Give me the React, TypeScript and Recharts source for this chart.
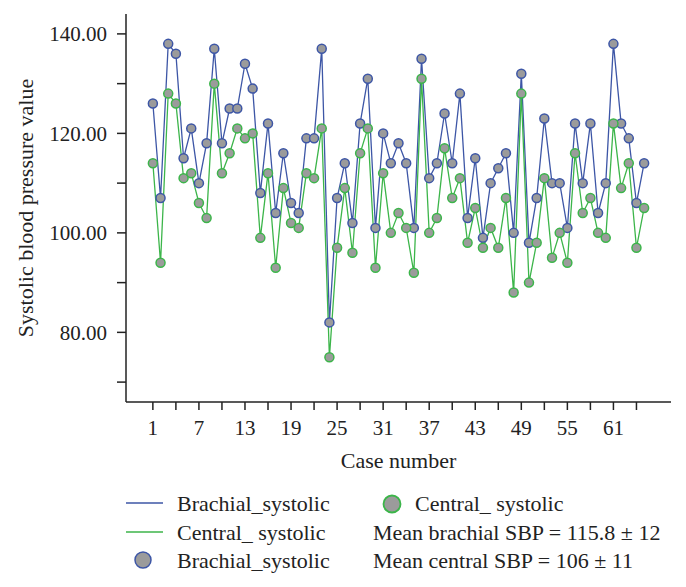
import { LineChart, Line, XAxis, YAxis, Label } from "recharts";

// systolic values per case
const brachial = [
  126, 107, 138, 136, 115, 121, 110, 118, 137, 118,
  125, 125, 134, 129, 108, 122, 104, 116, 106, 104,
  119, 119, 137, 82, 107, 114, 102, 122, 131, 101,
  120, 114, 118, 114, 101, 135, 111, 114, 124, 114,
  128, 103, 115, 99, 110, 113, 116, 100, 132, 98,
  107, 123, 110, 110, 101, 122, 110, 122, 104, 110,
  138, 122, 119, 106, 114,
];
const central = [
  114, 94, 128, 126, 111, 112, 106, 103, 130, 112,
  116, 121, 119, 120, 99, 112, 93, 109, 102, 101,
  112, 111, 121, 75, 97, 109, 96, 116, 121, 93,
  112, 100, 104, 101, 92, 131, 100, 103, 117, 107,
  111, 98, 105, 97, 101, 97, 107, 88, 128, 90,
  98, 111, 95, 100, 94, 116, 104, 107, 100, 99,
  122, 109, 114, 97, 105,
];
const xTicks = [1, 4, 7, 10, 13, 16, 19, 22, 25, 28, 31, 34, 37, 40, 43, 46, 49, 52, 55, 58, 61, 64];
const xLabels = [1, 7, 13, 19, 25, 31, 37, 43, 49, 55, 61];
const yTicks = [70, 80, 90, 100, 110, 120, 130, 140];
const yLabels = [80, 100, 120, 140];

const data = brachial.map((b, i) => ({ caseNo: i + 1, brachial: b, central: central[i] }));

const BLUE = "#3d56a6";
const GREEN = "#3cb54a";
const GREY = "#9b9b9b";
const FONT = "'Liberation Serif', 'DejaVu Serif', serif";
const TICK_FS = 21;
const FS = 22;

const dot = (color: string) => ({ r: 4.5, fill: GREY, stroke: color, strokeWidth: 1.5 });

export default function App() {
  return (
    <div style={{ position: "relative", width: 670, height: 571, fontFamily: FONT }}>
      <LineChart width={670} height={470} data={data} margin={{ top: 6, right: 7, bottom: 0, left: 0 }}>
        <XAxis
          dataKey="caseNo"
          type="number"
          domain={[-2.5, 68.5]}
          ticks={xTicks}
          tickFormatter={(v: number) => (xLabels.includes(v) ? String(v) : "")}
          interval={0}
          height={76}
          tickSize={8}
          tickMargin={10}
          stroke="#222"
          strokeWidth={1.5}
          tick={{ fill: "#222", fontSize: TICK_FS, fontFamily: FONT }}
        >
          <Label value="Case number" position="insideBottom" offset={10} fill="#222" fontSize={FS} fontFamily={FONT} />
        </XAxis>
        <XAxis xAxisId="top" orientation="top" dataKey="caseNo" type="number" domain={[-2.5, 68.5]} height={0} tick={false} tickLine={false} stroke="#222" strokeWidth={1.5} />
        <YAxis
          domain={[66, 144]}
          ticks={yTicks}
          tickFormatter={(v: number) => (yLabels.includes(v) ? v.toFixed(2) : "")}
          interval={0}
          width={118}
          tickSize={9}
          tickMargin={10}
          stroke="#222"
          strokeWidth={1.5}
          tick={{ fill: "#222", fontSize: TICK_FS, fontFamily: FONT }}
        >
          <Label value="Systolic blood pressure value" angle={-90} position="insideLeft" offset={17} fill="#222" fontSize={FS} fontFamily={FONT} style={{ textAnchor: "middle" }} />
        </YAxis>
        <YAxis yAxisId="right" orientation="right" domain={[66, 144]} width={0} tick={false} tickLine={false} stroke="#777" strokeWidth={1.5} />
        <Line dataKey="brachial" stroke={BLUE} strokeWidth={1.3} dot={dot(BLUE)} isAnimationActive={false} />
        <Line dataKey="central" stroke={GREEN} strokeWidth={1.3} dot={dot(GREEN)} isAnimationActive={false} />
      </LineChart>
      <svg width={670} height={101} style={{ position: "absolute", left: 0, top: 470 }}>
        <g fontSize={FS} fontFamily={FONT} fill="#222" dominantBaseline="central">
          <line x1={118} x2={155} y1={25} y2={25} stroke={BLUE} strokeWidth={1.3} />
          <text x={169} y={25}>Brachial_systolic</text>
          <line x1={118} x2={155} y1={54} y2={54} stroke={GREEN} strokeWidth={1.3} />
          <text x={169} y={54}>Central_ systolic</text>
          <circle cx={135} cy={82} r={8} fill={GREY} stroke={BLUE} strokeWidth={1.5} />
          <text x={169} y={82}>Brachial_systolic</text>
          <circle cx={384} cy={26} r={8.5} fill={GREY} stroke={GREEN} strokeWidth={1.8} />
          <text x={407} y={25}>Central_ systolic</text>
          <text x={365} y={54}>Mean brachial SBP = 115.8 ± 12</text>
          <text x={365} y={82}>Mean central SBP = 106 ± 11</text>
        </g>
      </svg>
    </div>
  );
}
